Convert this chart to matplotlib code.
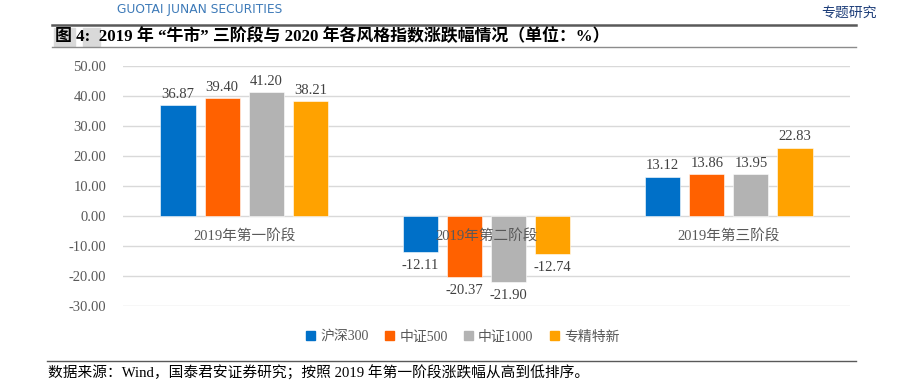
import numpy as np
import matplotlib
matplotlib.use("Agg")
import matplotlib.pyplot as plt
from matplotlib.patches import Rectangle
from matplotlib.lines import Line2D

# data
stages = ["2019年第一阶段", "2019年第二阶段", "2019年第三阶段"]
series_names = ["沪深300", "中证500", "中证1000", "专精特新"]
hs300 = [36.87, -12.11, 13.12]
zz500 = [39.40, -20.37, 13.86]
zz1000 = [41.20, -21.90, 13.95]
zjtx = [38.21, -12.74, 22.83]
series_values = [hs300, zz500, zz1000, zjtx]
colors = ["#0070C8", "#FF6100", "#B3B3B3", "#FFA200"]
yticks = [-30, -20, -10, 0, 10, 20, 30, 40, 50]

FONT = ["Liberation Serif", "Noto Sans CJK SC"]
plt.rcParams["font.family"] = FONT

W, H = 899, 386
fig = plt.figure(figsize=(W / 100, H / 100), dpi=100)

def fx(px):
    return px / W

def fy(py):
    return 1 - py / H

# plot area
ax = fig.add_axes([fx(123), fy(306), fx(850) - fx(123), fy(66) - fy(306)])

x = np.arange(len(stages))
step = 0.182
width = 0.145
for i, (name, vals) in enumerate(zip(series_names, series_values)):
    pos = x + (i - 1.5) * step
    ax.bar(pos, vals, width, color=colors[i], label=name, zorder=2,
           edgecolor="white", linewidth=0.4)
    for xp, v in zip(pos, vals):
        if v >= 0:
            ax.annotate(f"{v:.2f}", (xp, v), xytext=(0, 3), textcoords="offset points",
                        ha="center", va="bottom", fontsize=10.5, color="#404040")
        else:
            ax.annotate(f"{v:.2f}", (xp, v), xytext=(0, -5), textcoords="offset points",
                        ha="center", va="top", fontsize=10.5, color="#404040")

# category labels sit just under the zero line, on top of the bars
for xi, s in zip(x, stages):
    ax.text(xi, -6.6, s, ha="center", va="center", fontsize=10.5, color="#595959", zorder=5)

ax.set_xlim(-0.5, 2.5)
ax.set_ylim(-30, 50)
ax.set_yticks(yticks)
ax.set_yticklabels([f"{t:.2f}" for t in yticks], fontsize=10.5, color="#595959")
ax.set_xticks([])
ax.tick_params(axis="y", length=0, pad=12)
ax.grid(axis="y", color="#D9D9D9", linewidth=1, zorder=0)
for sp in ax.spines.values():
    sp.set_visible(False)

handles = [Rectangle((0, 0), 1, 1, color=c) for c in colors]
fig.legend(handles, series_names, loc="center", bbox_to_anchor=(fx(463), fy(337)),
           ncol=4, frameon=False, fontsize=10, handlelength=0.6, handleheight=0.6,
           handletextpad=0.4, columnspacing=1.2, labelcolor="#595959")

# header: logo text, section tag, rules and title
fig.text(fx(117), fy(10), "GUOTAI JUNAN SECURITIES", fontsize=8.8, color="#3D7AB8",
         family=["DejaVu Sans"], va="center", ha="left")
fig.text(fx(877), fy(13), "专题研究", fontsize=10, color="#1F3F7A", ha="right", va="center")
fig.add_artist(Line2D([fx(52), fx(856)], [fy(25), fy(25)], color="#595959", linewidth=1.8))
fig.add_artist(Line2D([fx(52), fx(856)], [fy(47), fy(47)], color="#8C8C8C", linewidth=1.0))
fig.add_artist(Rectangle((fx(54), fy(46)), fx(21), fy(28) - fy(46), color="#D9D9D9",
                         transform=fig.transFigure, zorder=0))
fig.add_artist(Rectangle((fx(83), fy(46)), fx(17), fy(28) - fy(46), color="#D9D9D9",
                         transform=fig.transFigure, zorder=0))
fig.text(fx(55), fy(37), "图 4:  2019 年 “牛市” 三阶段与 2020 年各风格指数涨跌幅情况（单位：%）",
         fontsize=12.2, fontweight="bold", color="#000000", ha="left", va="center")

# footer
fig.add_artist(Line2D([fx(47), fx(856)], [fy(361), fy(361)], color="#595959", linewidth=1.0))
fig.text(fx(48), fy(373), "数据来源：Wind，国泰君安证券研究；按照 2019 年第一阶段涨跌幅从高到低排序。",
         fontsize=10.6, color="#000000", ha="left", va="center")

fig.savefig("out.png", dpi=100)
